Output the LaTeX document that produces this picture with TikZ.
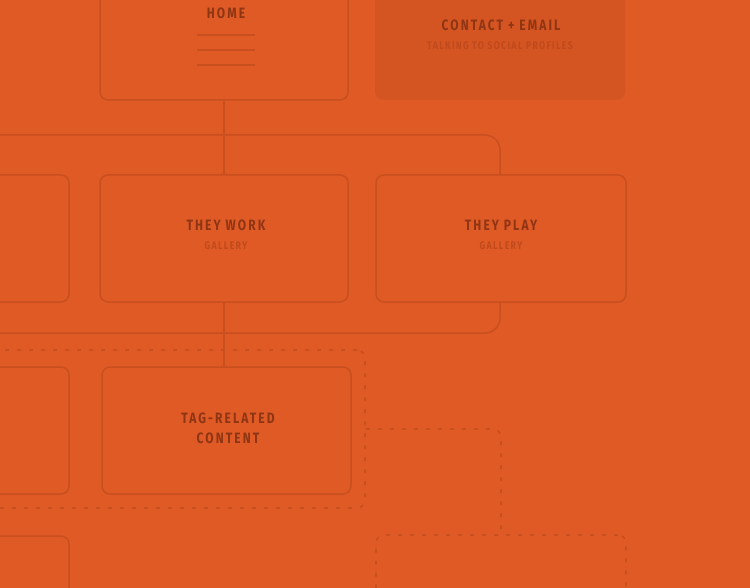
\documentclass[tikz,border=0pt]{standalone}
\usepackage{fontspec}
\newfontfamily\headfont[FakeStretch=0.8,LetterSpace=14]{Fira Sans}
\newfontfamily\subfont[FakeStretch=0.8,LetterSpace=12]{Fira Sans}
\definecolor{bg}{HTML}{E05A26}
\definecolor{wire}{HTML}{C84F1E}
\definecolor{head}{HTML}{8E3514}
\definecolor{sub}{HTML}{C04A1C}
\definecolor{shade}{HTML}{D45522}
\tikzset{box/.append style={draw=wire,fill=bg,line width=1.5pt,rounded corners=8pt,minimum width=248pt,minimum height=127pt,inner sep=0pt},
  dotbox/.append style={draw=wire,line width=1.6pt,rounded corners=8pt,dash pattern=on 4pt off 8pt,inner sep=0pt},
  ttl/.append style={text=head,font=\headfont\bfseries\fontsize{15}{20}\selectfont,inner sep=0pt},
  stl/.append style={text=sub,font=\subfont\bfseries\fontsize{11}{13}\selectfont,inner sep=0pt},
  wline/.append style={draw=wire,line width=1.5pt}}

\begin{document}
\begin{tikzpicture}[x=1pt,y=-1pt]
            \clip (0,0) rectangle (750,588);
            \fill[bg] (0,0) rectangle (750,588);
            % top row
            \node[box,minimum height=130pt] (home) at (224,35) {};
            \node[box,draw=none,fill=shade,minimum width=250pt,minimum height=130pt] (contact) at (500,35) {};
            \node[ttl] (homet) at (226,13) {HOME};
            \foreach \y in {35,50,65} \draw[wire,line width=1.5pt] (197,\y) -- (255,\y);
            \node[ttl] (contactt) at (501,25) {CONTACT + EMAIL};
            \node[stl] (contacts) at (500,46) {TALKING TO SOCIAL PROFILES};
            % middle row
            \node[box,fill=none,minimum width=600pt,minimum height=198pt,rounded corners=15pt] (grp) at (200,234) {};
            \node[box] (left1) at (-55,238.5) {};
            \node[box] (work) at (224,238.5) {};
            \node[box,minimum width=250pt] (play) at (501,238.5) {};
            \node[ttl] (workt) at (226,225) {THEY WORK};
            \node[stl] (works) at (226,246) {GALLERY};
            \node[ttl] (playt) at (501,225) {THEY PLAY};
            \node[stl] (plays) at (501,246) {GALLERY};
            % bottom rows
            \node[dotbox,minimum width=465pt,minimum height=158pt] (dotgrp) at (132.5,429) {};
            \node[box] (left2) at (-55,430.5) {};
            \node[box,minimum width=249pt] (tag) at (226.5,430.5) {};
            \node[ttl,align=center] (tagt) at (228,428) {TAG-RELATED\\CONTENT};
            \node[box] (left3) at (-55,599.5) {};
            \node[dotbox,minimum width=250pt,minimum height=127pt] (lower) at (501,598.5) {};
            \path[wline] (home.south) edge (work.north) (work.south) edge (work.south |- tag.north);
            \draw[dotbox] (dotgrp.east) -| (lower.north);
        \end{tikzpicture}
\end{document}
